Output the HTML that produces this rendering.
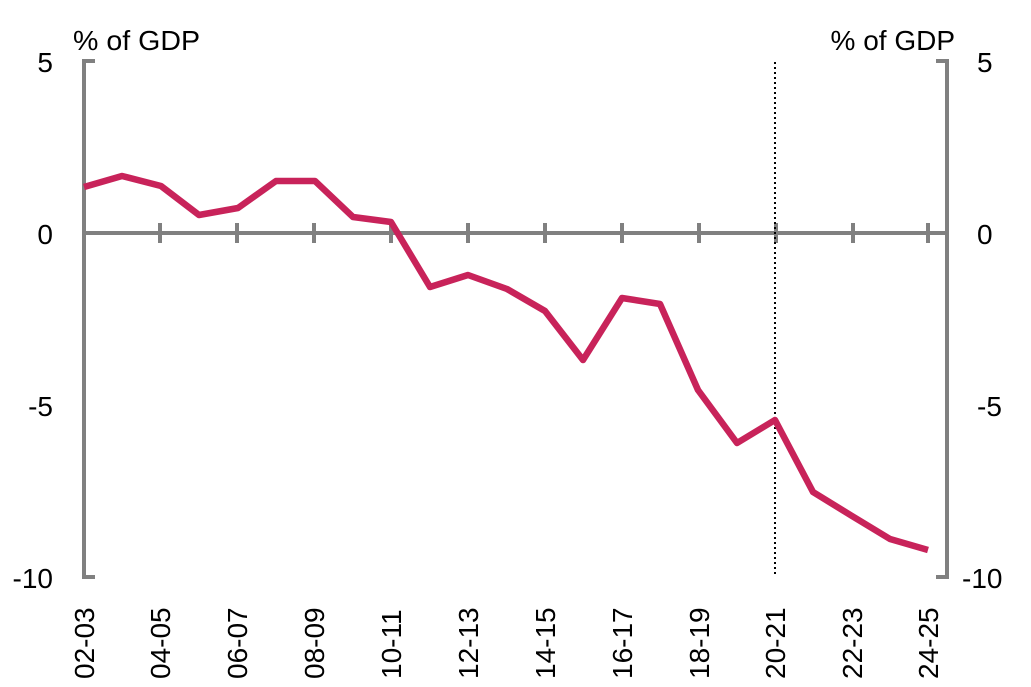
<!DOCTYPE html>
<html><head><meta charset="utf-8"><style>
body{margin:0;background:#fff}
svg{display:block;font-family:"Liberation Sans",sans-serif}
</style></head><body>
<svg width="1031" height="687" viewBox="0 0 1031 687" xmlns="http://www.w3.org/2000/svg">
<g stroke="#808080" stroke-width="4" fill="none">
<path d="M95 61H84V577H95"/>
<path d="M936 61H947V577H936"/>
<path d="M84 233H947"/>
<path d="M160 223V243M237 223V243M314 223V243M391 223V243M468 223V243M545 223V243M622 223V243M699 223V243M776 223V243M853 223V243M928 223V243"/>
</g>
<path d="M775 62V577" stroke="#000" stroke-width="2" stroke-dasharray="2,3"/>
<polyline fill="none" stroke="#C8235A" stroke-width="6.5" stroke-linejoin="round" points="84,187 122,176 161,186 199,215 238,208 276,181 315,181 353,217 391,222 430,287 468,275 507,289 545,311 583,360 622,298 660,304 698,390 737,443 775,420 813,492 852,516 890,539 928,550"/>
<g font-size="28" fill="#000">
<text x="73" y="50" textLength="127" lengthAdjust="spacingAndGlyphs">% of GDP</text>
<text x="955" y="50" text-anchor="end">% of GDP</text>
<text x="53" y="72" text-anchor="end">5</text>
<text x="53" y="244" text-anchor="end">0</text>
<text x="53" y="416" text-anchor="end">-5</text>
<text x="53" y="588" text-anchor="end">-10</text>
<text x="977" y="72">5</text>
<text x="977" y="244">0</text>
<text x="977" y="416">-5</text>
<text x="962" y="588">-10</text>
</g>
<g font-size="28" fill="#000">
<text transform="translate(94,679) rotate(-90)">02-03</text>
<text transform="translate(170,679) rotate(-90)">04-05</text>
<text transform="translate(247,679) rotate(-90)">06-07</text>
<text transform="translate(324,679) rotate(-90)">08-09</text>
<text transform="translate(401,679) rotate(-90)">10-11</text>
<text transform="translate(478,679) rotate(-90)">12-13</text>
<text transform="translate(555,679) rotate(-90)">14-15</text>
<text transform="translate(632,679) rotate(-90)">16-17</text>
<text transform="translate(709,679) rotate(-90)">18-19</text>
<text transform="translate(785,679) rotate(-90)">20-21</text>
<text transform="translate(862,679) rotate(-90)">22-23</text>
<text transform="translate(938,679) rotate(-90)">24-25</text>
</g>
</svg>
</body></html>
